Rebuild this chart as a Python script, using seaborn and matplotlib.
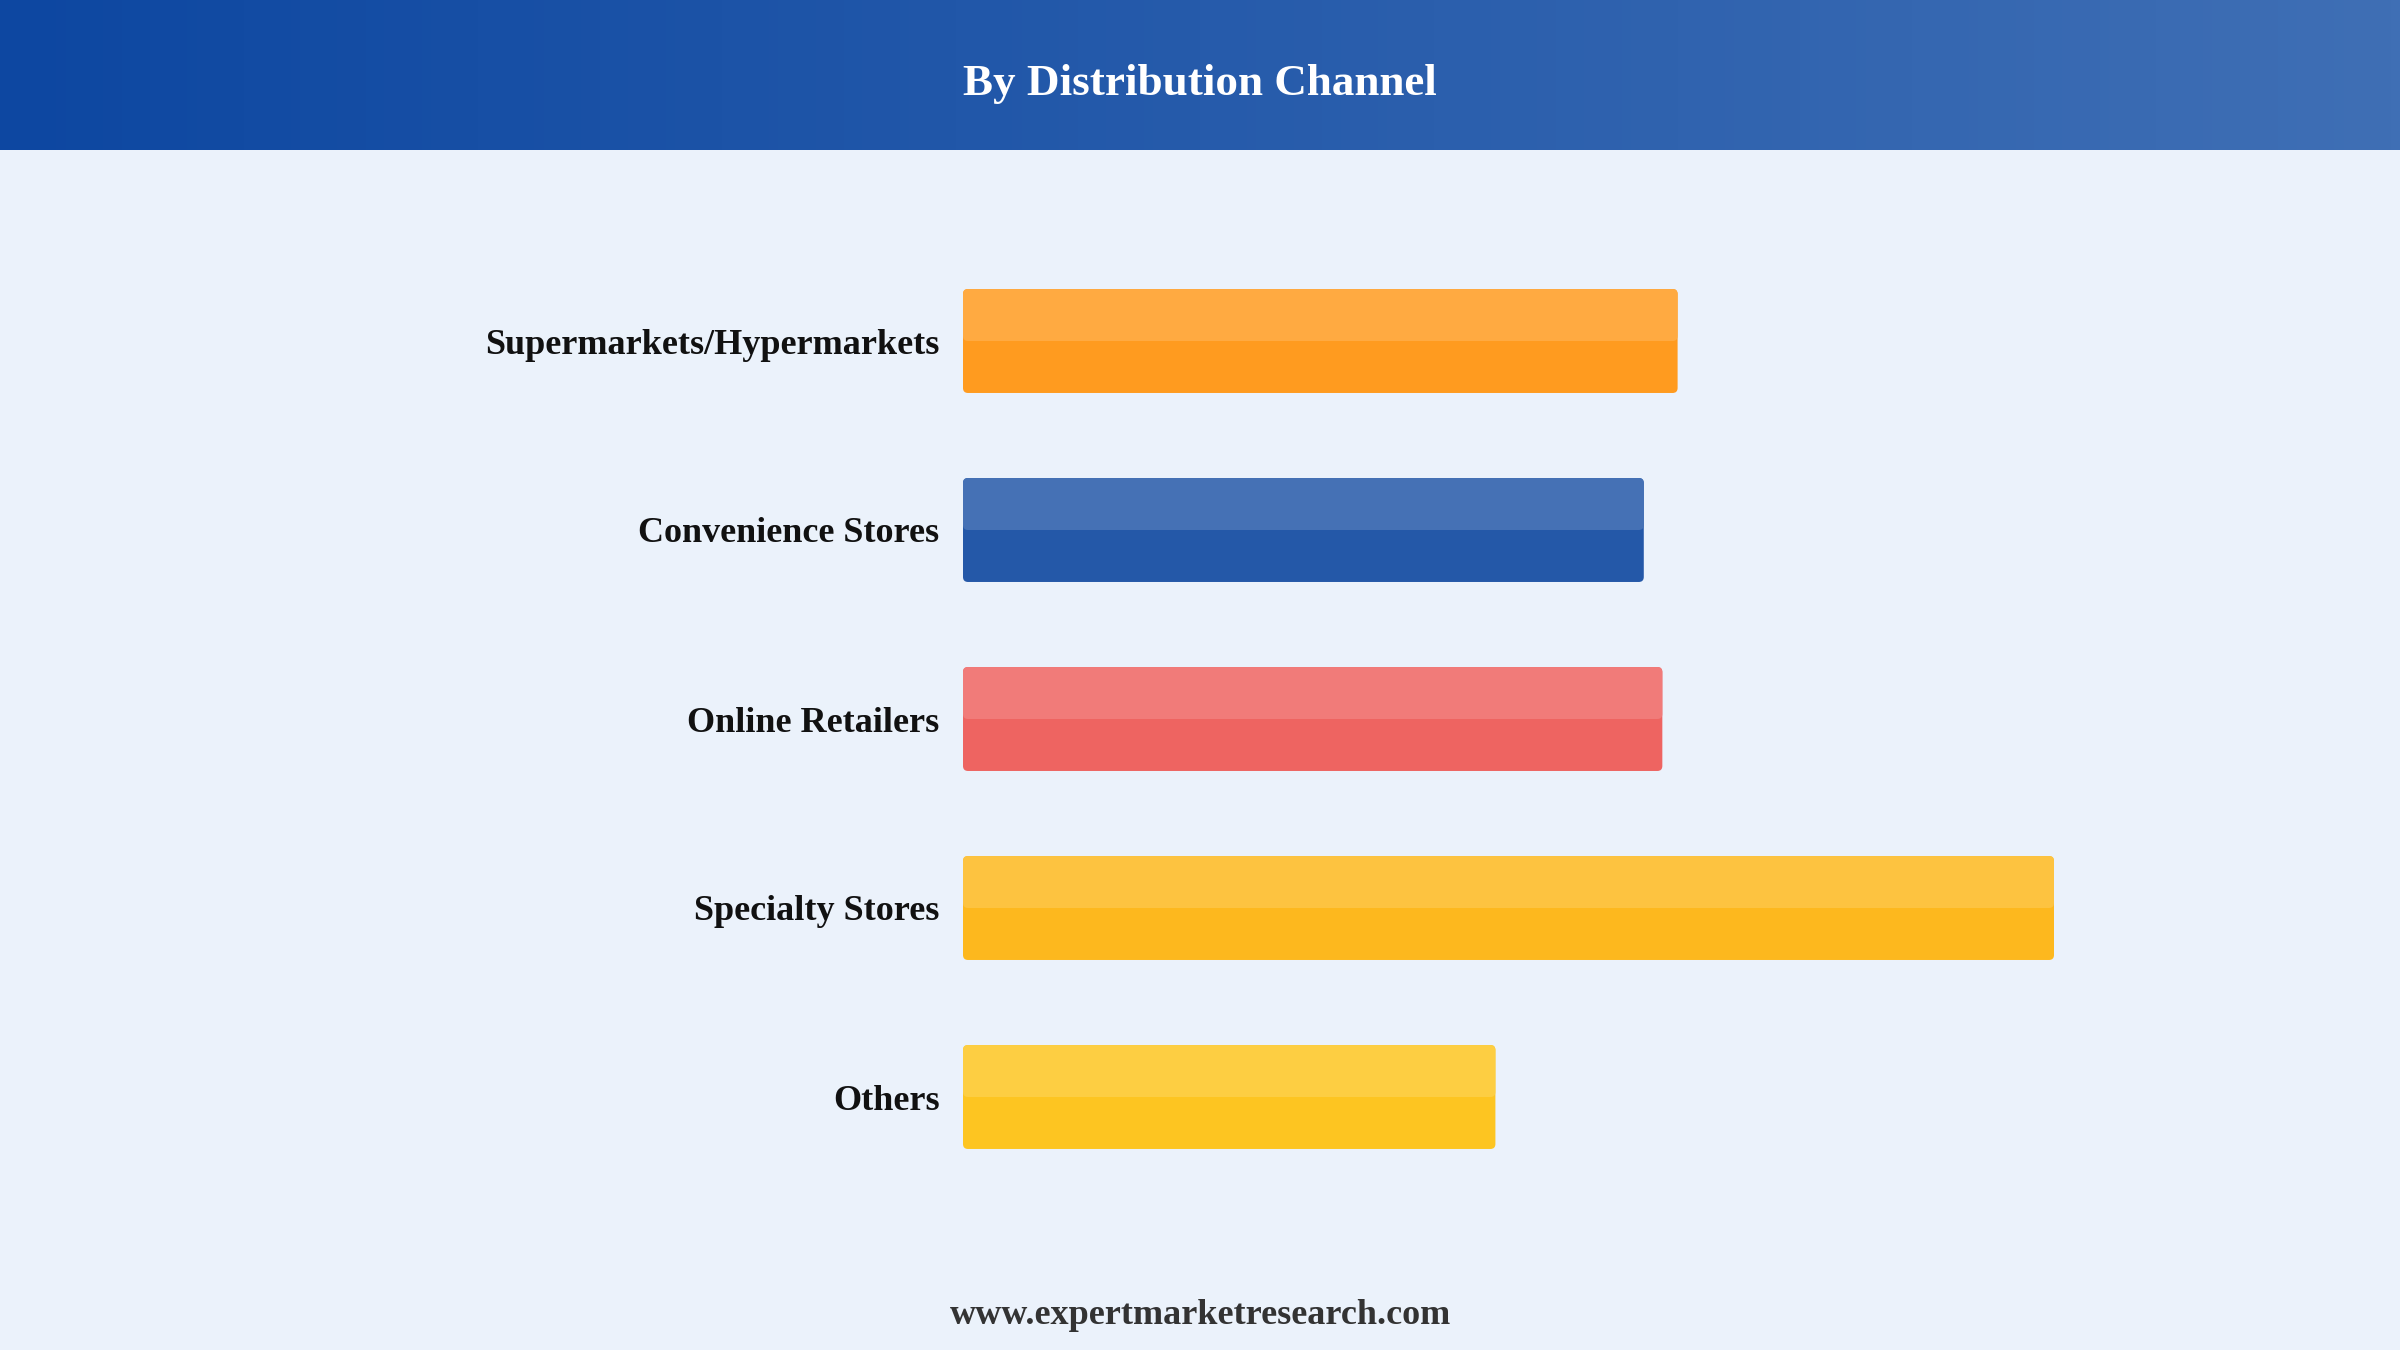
import numpy as np
import pandas as pd
import matplotlib
matplotlib.use("Agg")
import matplotlib.pyplot as plt
from matplotlib.patches import FancyBboxPatch
from matplotlib.colors import LinearSegmentedColormap, to_rgb
import seaborn as sns

# data
channels = ["Supermarkets/Hypermarkets", "Convenience Stores", "Online Retailers",
            "Specialty Stores", "Others"]
shares = [65.5, 62.4, 64.1, 100.0, 48.8]

bar_colors = ["#FF9B1F", "#2458A8", "#EE6461", "#FDB81E", "#FDC521"]
bg_color = "#EBF2FB"

df = pd.DataFrame({"channel": channels, "share": shares})

sns.set_theme(style="white")
plt.rcParams["font.family"] = ["Liberation Serif", "DejaVu Serif"]

W, H = 2400, 1350
fig = plt.figure(figsize=(24, 13.5), dpi=100, facecolor=bg_color)

# header band with horizontal gradient
header_h = 150 / H
hax = fig.add_axes([0, 1 - header_h, 1, header_h])
grad = LinearSegmentedColormap.from_list("hdr", ["#0D47A1", "#3F6FB5"])
hax.imshow(np.linspace(0, 1, 256).reshape(1, -1), aspect="auto", cmap=grad,
           extent=[0, 1, 0, 1])
hax.set_axis_off()
fig.text(0.5, 1 - 84 / H, "By Distribution Channel", color="white", fontsize=32.5,
         fontweight="bold", ha="center", va="center")

# main bar axes
x0, x1 = 963 / W, 2054 / W
y_top, y_bot = 1 - (341 - 94.5) / H, 1 - (1097 + 94.5) / H
ax = fig.add_axes([x0, y_bot, x1 - x0, y_top - y_bot])
ax.set_facecolor(bg_color)

sns.barplot(data=df, x="share", y="channel", hue="channel", palette=bar_colors,
            width=0.55, legend=False, ax=ax)
ax.set_xlim(0, 100)
ax.set_ylim(len(channels) - 0.5, -0.5)

# swap plain bars for rounded, two-tone ones
fig.canvas.draw()
bbox = ax.get_window_extent()
px_per_x = bbox.width / 100.0
px_per_y = bbox.height / len(channels)
aspect = px_per_x / px_per_y
rad = 5 / px_per_x

for p, col in zip(list(ax.patches), bar_colors):
    x, y, w, h = p.get_x(), p.get_y(), p.get_width(), p.get_height()
    p.set_visible(False)
    ax.add_patch(FancyBboxPatch((x, y), w, h,
                                boxstyle=f"round,pad=0,rounding_size={rad}",
                                mutation_aspect=aspect, facecolor=col,
                                edgecolor="none"))
    light = tuple(c + (1 - c) * 0.15 for c in to_rgb(col))
    ax.add_patch(FancyBboxPatch((x, y), w, h / 2,
                                boxstyle=f"round,pad=0,rounding_size={rad}",
                                mutation_aspect=aspect, facecolor=light,
                                edgecolor="none"))

ax.set_xlabel("")
ax.set_ylabel("")
ax.set_xticks([])
ax.tick_params(axis="y", length=0, pad=17)
for lbl in ax.get_yticklabels():
    lbl.set_fontsize(26)
    lbl.set_fontweight("bold")
    lbl.set_color("#111111")
sns.despine(ax=ax, left=True, bottom=True)

fig.text(0.5, 1 - 1315 / H, "www.expertmarketresearch.com", color="#333333",
         fontsize=26, fontweight="bold", ha="center", va="center")

fig.savefig("out.png", dpi=100, facecolor=bg_color)
